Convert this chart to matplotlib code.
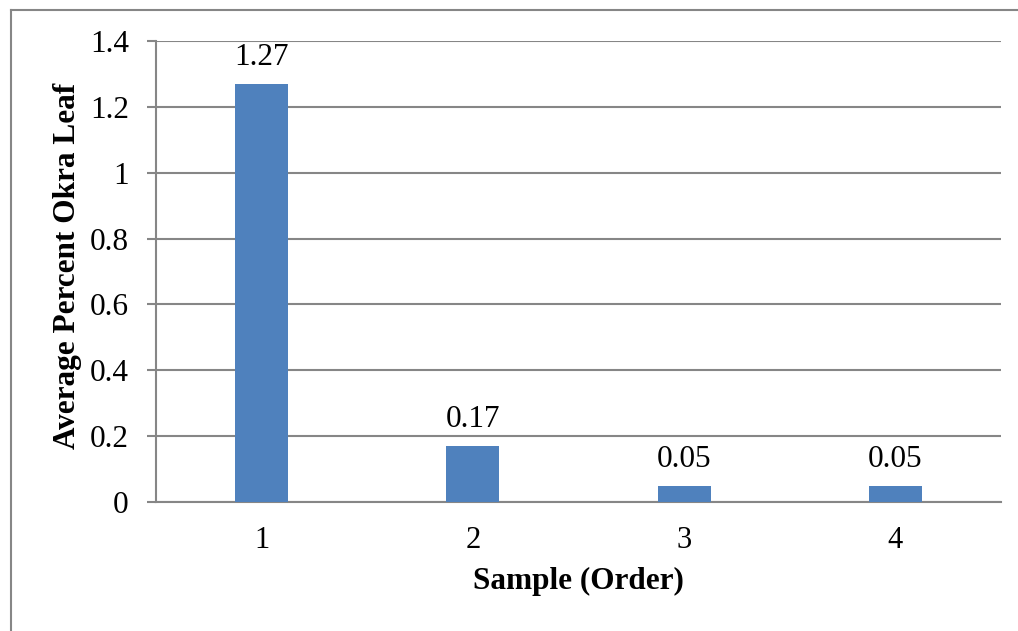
import matplotlib.pyplot as plt
from matplotlib.lines import Line2D

# Average okra leaf percentage per sample
samples = ['1', '2', '3', '4']
okra_leaf = [1.27, 0.17, 0.05, 0.05]
value_labels = ['1.27', '0.17', '0.05', '0.05']
yticks = [0, 0.2, 0.4, 0.6, 0.8, 1, 1.2, 1.4]
ytick_labels = ['0', '0.2', '0.4', '0.6', '0.8', '1', '1.2', '1.4']

plt.rcParams['font.family'] = ['Liberation Serif', 'DejaVu Serif']

bar_color = '#4F81BD'
line_gray = '#868686'

fig = plt.figure(figsize=(10.18, 6.31), dpi=100)
ax = fig.add_axes([0.1532, 0.2044, 0.8301, 0.7306])

x = list(range(len(samples)))
bars = ax.bar(x, okra_leaf, width=0.25, color=bar_color, zorder=3)

for rect, lab in zip(bars, value_labels):
    ax.annotate(lab, (rect.get_x() + rect.get_width() / 2, rect.get_height()),
                xytext=(0, 8.5), textcoords='offset points',
                ha='center', va='bottom', fontsize=22.5)

ax.set_xlim(-0.5, len(samples) - 0.5)
ax.set_ylim(0, 1.4)
ax.set_xticks(x)
ax.set_xticklabels(samples)
ax.set_yticks(yticks)
ax.set_yticklabels(ytick_labels)

ax.tick_params(axis='y', length=6.5, width=1.5, color=line_gray, pad=13, labelsize=22.5)
ax.tick_params(axis='x', length=0, pad=17, labelsize=22)

ax.grid(axis='y', color=line_gray, linewidth=1.5, zorder=0)
for side in ['top', 'right']:
    ax.spines[side].set_visible(False)
for side in ['left', 'bottom']:
    ax.spines[side].set_color(line_gray)
    ax.spines[side].set_linewidth(1.5)

ax.set_xlabel('Sample (Order)', fontsize=22.5, fontweight='bold', labelpad=9)
ax.set_ylabel('Average Percent Okra Leaf', fontsize=22.5, fontweight='bold')
ax.yaxis.set_label_coords(-0.088, 0.513)

# chart area outline (left and top edges)
fig.add_artist(Line2D([11 / 1018, 11 / 1018], [0, 1 - 10 / 631],
                      transform=fig.transFigure, color=line_gray, linewidth=1.5))
fig.add_artist(Line2D([11 / 1018, 1], [1 - 10 / 631, 1 - 10 / 631],
                      transform=fig.transFigure, color=line_gray, linewidth=1.5))

fig.savefig('out.png', dpi=100)
